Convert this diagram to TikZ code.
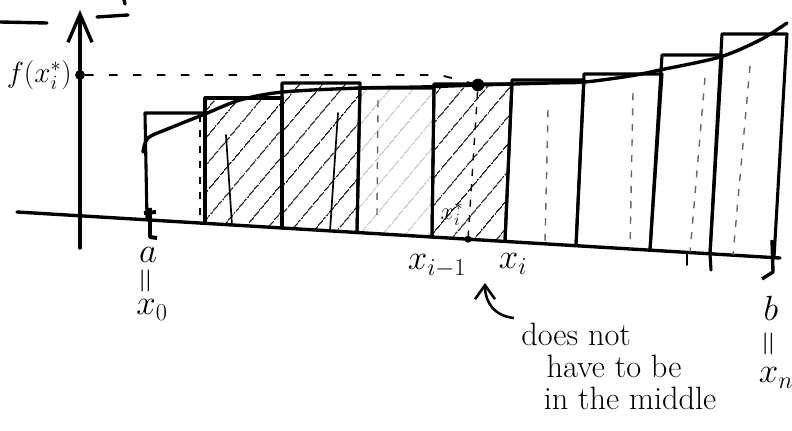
\documentclass[tikz,border=0pt]{standalone}
\usepackage{amsmath,amssymb}
\usetikzlibrary{arrows.meta,positioning,calc,patterns.meta}
\tikzset{
  axisln/.style={line width=2.4pt, line cap=round, line join=round},
  barln/.style={line width=2.2pt, line cap=round, line join=round},
  curveln/.style={line width=2.4pt, line cap=round, line join=round},
  thinln/.style={line width=1.2pt, line cap=round},
  sampleln/.style={dash pattern=on 5pt off 6pt, line width=1pt},
  projln/.style={dash pattern=on 6pt off 11pt, line width=1.3pt},
  hatchfill/.style={pattern={Lines[angle=50,distance=13pt,line width=0.9pt]}},
  faintfill/.style={pattern={Lines[angle=50,distance=13pt,line width=0.6pt]}, pattern color=black!40},
  dotnode/.style={circle, fill, inner sep=0pt, minimum size=7pt},
  biglbl/.style={font=\fontsize{27}{29}\selectfont, inner sep=1pt},
  midlbl/.style={font=\fontsize{21}{23}\selectfont, inner sep=1pt},
  smalllbl/.style={font=\fontsize{18}{20}\selectfont, inner sep=1pt},
  eqlbl/.style={font=\fontsize{26}{26}\selectfont, inner sep=0pt, rotate=90},
  notelbl/.style={font=\fontsize{23}{22.5}\selectfont, inner sep=0pt},
  noteln/.style={line width=1.8pt, -{Straight Barb[length=3.5mm,width=5mm]}},
}
% height of the (slightly tilted) x-axis at a given x
\newcommand{\axy}[1]{212+0.0603*(#1-17)}

\begin{document}
\begin{tikzpicture}[x=0.025cm, y=-0.025cm]
  \useasboundingbox (0,0) rectangle (792,431);
  % stray strokes at the top
  \draw[axisln] (0,22) -- (47,23);
  \draw[axisln] (97,17) -- (128,15);
  \draw[axisln] (124,0) -- (125,4);
  % hatched strips
  \foreach \lt/\lb/\rt/\rb/\tp in {205/205/282/282/98, 282/282/360/357/83, 434/432/512/505/84}{
    \fill[hatchfill] (\lt,\tp) -- (\rt,\tp) -- (\rb,{\axy{\rb}}) -- (\lb,{\axy{\lb}}) -- cycle;
  }
  \fill[faintfill] (360,88) -- (434,88) -- (432,{\axy{432}}) -- (357,{\axy{357}}) -- cycle;
  % strips
  \foreach \lt/\lb/\rt/\rb/\tp in {145/147/205/205/113, 205/205/282/282/98,
      282/282/360/357/83, 360/357/434/432/88, 434/432/512/505/84, 512/505/584/576/80,
      584/576/662/650/74, 662/650/722/710/55, 722/710/787/774/34}{
    \draw[barln] (\lb,{\axy{\lb}}) -- (\lt,\tp) -- (\rt,\tp) -- (\rb,{\axy{\rb}});
  }
  % axes
  \draw[axisln] (17,212) -- (780,{\axy{780}});
  \draw[axisln, -{Straight Barb[length=7mm,width=6mm]}] (80,248) -- (80,10);
  % curve
  \draw[curveln] plot[smooth, tension=0.5] coordinates {(143,152) (148,138) (170,128)
    (205,114) (240,100) (283,92) (360,88) (420,87) (478,85) (550,83) (585,82)
    (630,76) (660,70) (720,57) (760,40) (787,23)};
  % loose strokes inside the strips
  \draw[thinln] (226,135) -- (232,{\axy{232}});
  \draw[thinln] (338,113) -- (330,{\axy{330}});
  \draw[sampleln] (200,115) -- (200,{\axy{200}});
  \draw[sampleln, black!60] (378,100) -- (377,215);
  \foreach \tx/\ty/\bx in {548/110/545, 633/93/630, 705/78/690, 750/66/733}{
    \draw[sampleln, black!60] (\tx,\ty) -- (\bx,{\axy{\bx}});
  }
  % ticks at a and b
  \draw[line width=2.8pt] (144,213) -- (156,212);
  \draw[line width=2.8pt, line join=round] (150,208) -- (150,237) -- (157,238);
  \draw[line width=2.4pt, line join=round] (772,240) -- (773,272) -- (762,279);
  \draw[barln] (710,{\axy{710}}) -- (711,270);
  \draw[thinln] (687,{\axy{687}}) -- (687,265);
  % f(x_i^*) and the sample point
  \node[dotnode] (fdot) at (80,75) {};
  \node[dotnode, minimum size=9pt] (sdot) at (478,85) {};
  \coordinate (sbase) at (468,{\axy{468}});
  \draw[projln] (fdot) -- (440,75) -- (sdot);
  \draw[sampleln] (sdot) -- (sbase);
  \node[dotnode, minimum size=5pt] at (sbase) {};
  \node[midlbl, left=1pt of fdot] (fxi) {$f(x_i^*)$};
  \node[smalllbl] (xstar) at (452,214) {$x_i^*$};
  % labels under the axis
  \node[biglbl] (a) at (148,255) {$a$};
  \node[eqlbl] (aeq) at (148,281) {$=$};
  \node[biglbl] (x0) at (152,310) {$x_0$};
  \node[biglbl] (b) at (771,308) {$b$};
  \node[eqlbl] (beq) at (771,344) {$=$};
  \node[biglbl] (xn) at (776,378) {$x_n$};
  \node[biglbl] (xim1) at (437,266) {$x_{i-1}$};
  \node[biglbl] (xi) at (513,264) {$x_i$};
  % remark
  \node[notelbl, anchor=north west, align=left] (note) at (521,323)
    {does not\\\hspace*{18pt}have to be\\\hspace*{16pt}in the middle};
  \coordinate (tail) at (514,318);
  \coordinate (tip) at (485,283);
  \draw[noteln] (tail) .. controls (494,316) and (485,302) .. (tip);
\end{tikzpicture}
\end{document}
